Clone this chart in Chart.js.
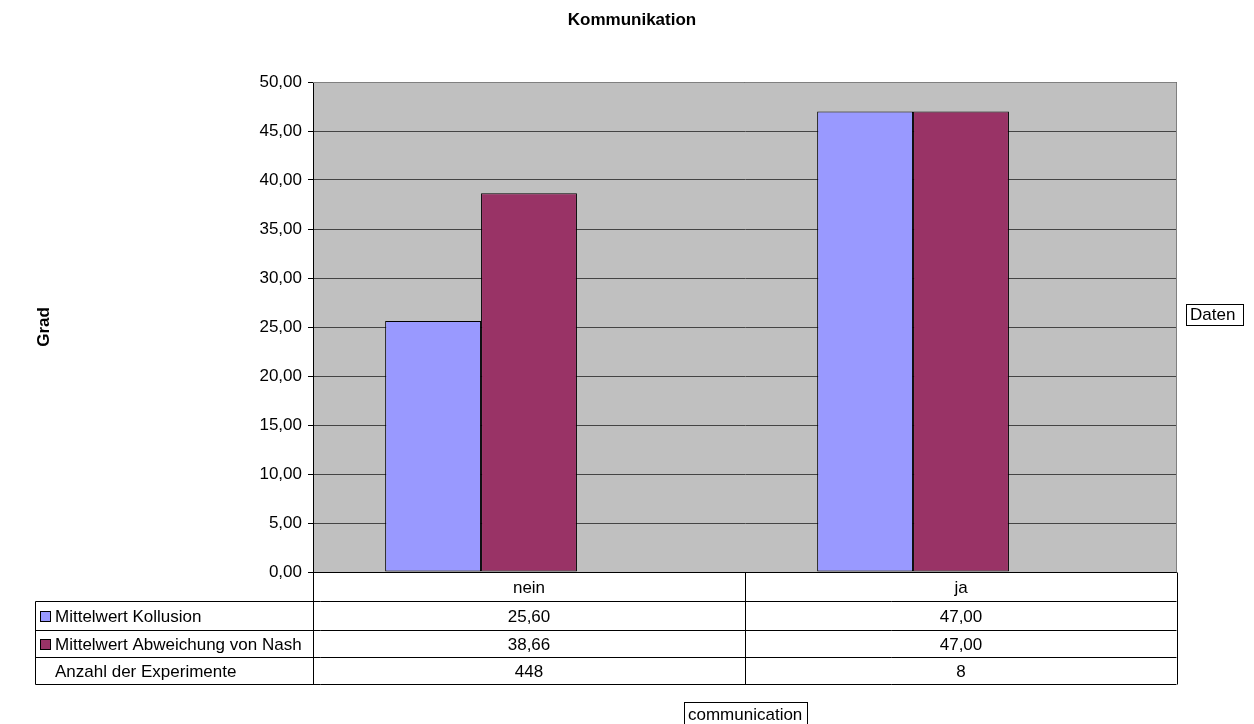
<!DOCTYPE html>
<html>
<head>
<meta charset="utf-8">
<script src="https://cdn.jsdelivr.net/npm/chart.js@4/dist/chart.umd.min.js"></script>
<style>
html,body{margin:0;padding:0;background:#fff;}
#wrap{width:1254px;height:724px;position:relative;}
</style>
</head>
<body>
<div id="wrap"><canvas id="c" width="1254" height="724"></canvas></div>
<script>
const chartTitle = "Kommunikation";
const yTitle = "Grad";
const categories = ["nein", "ja"];
const kollusion = [25.60, 47.00];
const abweichungNash = [38.66, 47.00];
const anzahlExperimente = [448, 8];
const seriesNames = ["Mittelwert Kollusion", "Mittelwert Abweichung von Nash", "Anzahl der Experimente"];
const seriesColors = ["#9999FF", "#993366"];
const legendLabel = "Daten";
const xLabel = "communication";

const FONT = "'Liberation Sans', Arial, sans-serif";
const fmt = v => v.toFixed(2).replace('.', ',');

const tablePlugin = {
  id: 'tablePlugin',
  beforeDraw(chart) {
    const {ctx, chartArea: a} = chart;
    ctx.save();
    ctx.fillStyle = '#C0C0C0';
    ctx.fillRect(a.left, a.top, a.right - a.left, a.bottom - a.top);
    ctx.restore();
  },
  afterDraw(chart) {
    const {ctx, chartArea: a} = chart;
    const x = chart.scales.x;
    ctx.save();
    // plot border (top/right)
    ctx.strokeStyle = '#808080';
    ctx.lineWidth = 1;
    ctx.beginPath();
    ctx.moveTo(a.left, Math.round(a.top) + 0.5);
    ctx.lineTo(Math.round(a.right) - 0.5, Math.round(a.top) + 0.5);
    ctx.lineTo(Math.round(a.right) - 0.5, a.bottom);
    ctx.stroke();

    // title
    ctx.fillStyle = '#000';
    ctx.font = "bold 17px " + FONT;
    ctx.textAlign = 'center';
    ctx.textBaseline = 'middle';
    ctx.fillText(chartTitle, 632, 20);

    // y title
    ctx.save();
    ctx.translate(44, 327);
    ctx.rotate(-Math.PI / 2);
    ctx.fillText(yTitle, 0, 0);
    ctx.restore();

    // data table
    const tLeft = 35.5, tRight = Math.round(a.right) - 0.5;
    const rows = [Math.round(a.bottom) + 0.5, 601.5, 630.5, 657.5, 684.5];
    ctx.strokeStyle = '#000';
    ctx.beginPath();
    ctx.moveTo(Math.round(a.left) + 0.5, rows[0]); ctx.lineTo(tRight, rows[0]);
    for (let i = 1; i < rows.length; i++) { ctx.moveTo(tLeft, rows[i]); ctx.lineTo(tRight, rows[i]); }
    ctx.moveTo(tLeft, rows[1]); ctx.lineTo(tLeft, rows[4]);
    ctx.moveTo(Math.round(a.left) + 0.5, rows[0]); ctx.lineTo(Math.round(a.left) + 0.5, rows[4]);
    for (let i = 0; i < categories.length; i++) {
      const edge = x.getPixelForValue(i) + (x.getPixelForValue(1) - x.getPixelForValue(0)) / 2;
      ctx.moveTo(Math.round(edge) + 0.5, rows[0]); ctx.lineTo(Math.round(edge) + 0.5, rows[4]);
    }
    ctx.stroke();

    ctx.font = "17px " + FONT;
    ctx.textBaseline = 'middle';
    const rowData = [categories, kollusion.map(fmt), abweichungNash.map(fmt), anzahlExperimente.map(String)];
    for (let r = 0; r < rowData.length; r++) {
      const cy = (rows[r] + rows[r + 1]) / 2 + 1;
      ctx.textAlign = 'center';
      for (let i = 0; i < categories.length; i++) {
        ctx.fillText(rowData[r][i], x.getPixelForValue(i), cy);
      }
      if (r > 0) {
        ctx.textAlign = 'left';
        ctx.fillText(seriesNames[r - 1], 55, cy);
        if (r <= 2) {
          ctx.fillStyle = seriesColors[r - 1];
          ctx.fillRect(40, Math.round(cy) - 6, 11, 11);
          ctx.strokeStyle = '#000';
          ctx.strokeRect(40.5, Math.round(cy) - 5.5, 10, 10);
          ctx.fillStyle = '#000';
        }
      }
    }

    // legend label box
    ctx.textAlign = 'left';
    ctx.strokeStyle = '#000';
    ctx.strokeRect(1186.5, 304.5, 57, 21);
    ctx.fillText(legendLabel, 1190, 315.5);

    // x label box
    ctx.strokeRect(684.5, 702.5, 123, 24);
    ctx.fillText(xLabel, 688, 715);
    ctx.restore();
  }
};

const barOpts = { borderColor: '#000', borderWidth: 1, borderSkipped: false, barPercentage: 1, categoryPercentage: 0.666 };

new Chart(document.getElementById('c'), {
  type: 'bar',
  data: {
    labels: categories,
    datasets: [
      Object.assign({ label: seriesNames[0], data: kollusion, backgroundColor: seriesColors[0] }, barOpts),
      Object.assign({ label: seriesNames[1], data: abweichungNash, backgroundColor: seriesColors[1] }, barOpts),
      // third series (count) has no bar drawn on this axis; it only occupies its slot in the group
      Object.assign({ label: seriesNames[2], data: categories.map(() => null), backgroundColor: 'rgba(0,0,0,0)' }, barOpts)
    ]
  },
  options: {
    responsive: false,
    animation: false,
    layout: { padding: { left: 0, right: 77, top: 82, bottom: 152 } },
    plugins: { legend: { display: false }, title: { display: false }, tooltip: { enabled: false } },
    scales: {
      x: { display: false },
      y: {
        min: 0, max: 50,
        ticks: { stepSize: 5, color: '#000', padding: 6, font: { family: FONT, size: 17 }, callback: v => fmt(v) },
        grid: { color: '#444', tickColor: '#000', tickLength: 5, drawTicks: true },
        border: { color: '#000', width: 1 },
        afterFit(scale) { scale.width = 313; }
      }
    }
  },
  plugins: [tablePlugin]
});
</script>
</body>
</html>
